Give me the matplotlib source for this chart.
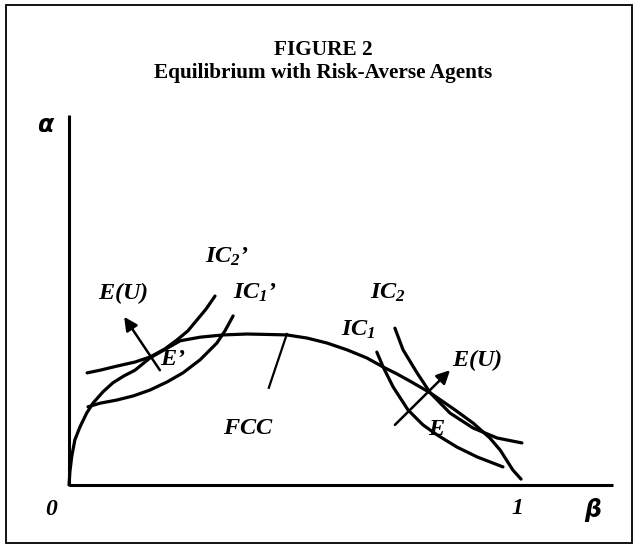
import matplotlib
matplotlib.use("Agg")
import matplotlib.pyplot as plt
from matplotlib.patches import Rectangle

# bold italic serif for all the math labels
plt.rcParams['mathtext.fontset'] = 'custom'
plt.rcParams['mathtext.rm'] = 'Liberation Serif:bold:italic'
plt.rcParams['mathtext.it'] = 'Liberation Serif:bold:italic'
plt.rcParams['mathtext.bf'] = 'Liberation Serif:bold:italic'

# curves, beta on x, alpha on y
fcc_beta = [0.0, 0.002, 0.006, 0.013, 0.024, 0.039, 0.053, 0.075, 0.097, 0.121, 0.146,
            0.179, 0.246, 0.290, 0.341, 0.394, 0.440, 0.482, 0.527, 0.571, 0.615, 0.659,
            0.695, 0.725, 0.754, 0.799, 0.854, 0.894, 0.931, 0.954, 0.982, 1.0]
fcc_alpha = [0.0, 0.030, 0.063, 0.100, 0.128, 0.159, 0.181, 0.206, 0.226, 0.241, 0.254,
             0.281, 0.319, 0.327, 0.332, 0.334, 0.333, 0.332, 0.325, 0.314, 0.299, 0.281,
             0.261, 0.246, 0.230, 0.204, 0.166, 0.137, 0.104, 0.077, 0.033, 0.013]

ic2p_beta = [0.040, 0.069, 0.106, 0.146, 0.179, 0.212, 0.239, 0.263, 0.283, 0.303, 0.323]
ic2p_alpha = [0.248, 0.254, 0.263, 0.272, 0.283, 0.301, 0.321, 0.341, 0.365, 0.389, 0.418]

ic1p_beta = [0.042, 0.069, 0.106, 0.142, 0.179, 0.217, 0.252, 0.290, 0.312, 0.327, 0.345, 0.363]
ic1p_alpha = [0.173, 0.181, 0.188, 0.197, 0.210, 0.228, 0.248, 0.277, 0.299, 0.314, 0.341, 0.374]

ic1_beta = [0.681, 0.695, 0.717, 0.750, 0.783, 0.814, 0.858, 0.903, 0.960]
ic1_alpha = [0.294, 0.261, 0.217, 0.166, 0.133, 0.111, 0.084, 0.062, 0.040]

ic2_beta = [0.721, 0.739, 0.770, 0.799, 0.843, 0.894, 0.947, 1.002]
ic2_alpha = [0.347, 0.299, 0.248, 0.204, 0.159, 0.126, 0.104, 0.093]

# direction of higher expected utility (start, tip)
arrow_left = [(0.201, 0.254), (0.122, 0.372)]
arrow_right = [(0.721, 0.133), (0.843, 0.254)]
fcc_pointer = [(0.482, 0.334), (0.442, 0.215)]

labels = [
    ("$E(U)$", 0.120, 0.425),
    ("$IC_2$\u2019", 0.350, 0.504),
    ("$IC_1$\u2019", 0.412, 0.425),
    ("$E$\u2019", 0.230, 0.277),
    ("$FCC$", 0.396, 0.126),
    ("$IC_2$", 0.706, 0.425),
    ("$IC_1$", 0.639, 0.343),
    ("$E(U)$", 0.903, 0.277),
    ("$E$", 0.814, 0.122),
]

fig = plt.figure(figsize=(6.38, 5.46), dpi=100)
ax = fig.add_axes([0, 0, 1, 1])
ax.set_xlim(-0.1527, 1.2588)
ax.set_ylim(-0.135, 1.073)
ax.axis('off')

# outer frame
fig.patches.append(Rectangle((0.009, 0.0055), 0.982, 0.985, transform=fig.transFigure,
                             fill=False, lw=1.3, ec='black'))

fig.text(0.507, 0.908, "FIGURE 2", ha='center', va='center',
         family='Liberation Serif', weight='bold', fontsize=15.3)
fig.text(0.507, 0.866, "Equilibrium with Risk-Averse Agents", ha='center', va='center',
         family='Liberation Serif', weight='bold', fontsize=15.3)

# axes
ax.plot([0, 1.2035], [0, 0], color='black', lw=2.2, solid_capstyle='butt')
ax.plot([0, 0], [0, 0.8186], color='black', lw=2.2, solid_capstyle='butt')

lw = 2.3
ax.plot(fcc_beta, fcc_alpha, color='black', lw=lw, solid_capstyle='round')
ax.plot(ic2p_beta, ic2p_alpha, color='black', lw=lw, solid_capstyle='round')
ax.plot(ic1p_beta, ic1p_alpha, color='black', lw=lw, solid_capstyle='round')
ax.plot(ic1_beta, ic1_alpha, color='black', lw=lw, solid_capstyle='round')
ax.plot(ic2_beta, ic2_alpha, color='black', lw=lw, solid_capstyle='round')

ax.plot(*zip(*fcc_pointer), color='black', lw=1.6)
for start, tip in [arrow_left, arrow_right]:
    ax.annotate("", xy=tip, xytext=start,
                arrowprops=dict(arrowstyle='-|>', color='black', lw=1.8,
                                mutation_scale=20, shrinkA=0, shrinkB=0))

for txt, x, y in labels:
    ax.text(x, y, txt, ha='center', va='center', fontsize=17.5,
            family='Liberation Serif', weight='bold', style='italic')

ax.text(-0.053, 0.797, "\u03b1", ha='center', va='center', fontsize=17,
        family='DejaVu Sans', weight='bold', style='italic')
ax.text(1.159, -0.055, "\u03b2", ha='center', va='center', fontsize=17,
        family='DejaVu Sans', weight='bold', style='italic')
ax.text(-0.040, -0.055, "0", ha='center', va='center', fontsize=17,
        family='Liberation Serif', weight='bold', style='italic')
ax.text(0.993, -0.051, "1", ha='center', va='center', fontsize=17,
        family='Liberation Serif', weight='bold', style='italic')

plt.savefig("out.png", dpi=100)
